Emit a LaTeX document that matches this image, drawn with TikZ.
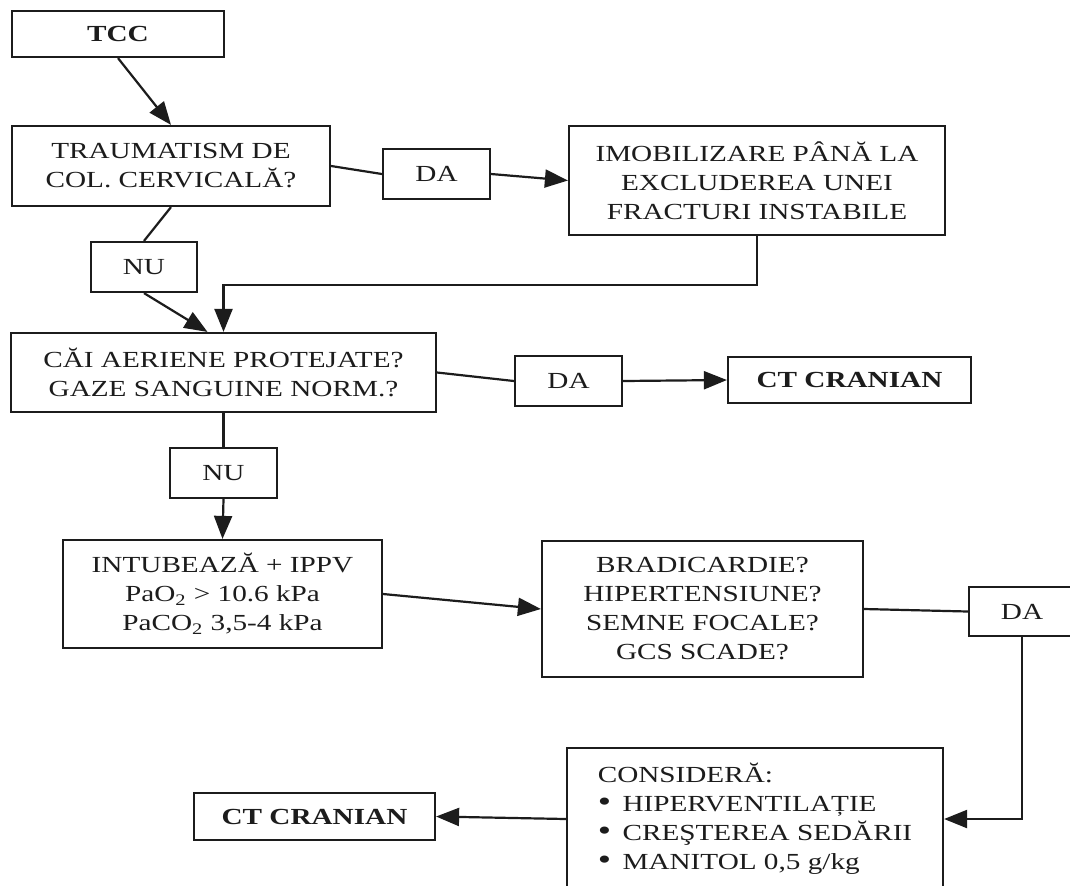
\documentclass[tikz,border=0pt]{standalone}
\usepackage{fontspec}
\setmainfont{Liberation Serif}[FakeStretch=1.27]
\usetikzlibrary{arrows.meta,calc}
\definecolor{ink}{HTML}{1C1C1C}
\newcommand{\bigbul}{\scalebox{1.3}{\textbullet}\hspace{0.5em}}
\begin{document}
\begin{tikzpicture}[x=0.5pt,y=-0.5pt,
  box/.style={draw=ink, text=ink, line width=1.1pt, inner sep=0pt, align=center,
              font=\fontsize{11.5}{14.5}\selectfont},
  boldbox/.style={box, font=\fontsize{11.5}{14.5}\selectfont\bfseries},
  sz/.style 2 args={minimum width=#1*0.5pt, minimum height=#2*0.5pt},
  conn/.style={draw=ink, line width=1.1pt},
  arr/.style={conn, -{Triangle[length=11.5pt,width=9pt]}}]
\useasboundingbox (0,0) rectangle (1070,885);
\fill[white] (0,0) rectangle (1070,885);
\clip (0,0) rectangle (1070,885);

\node[boldbox, sz={212}{46}] (tcc) at (118,34) {TCC};
\node[box, sz={318}{80}] (trauma) at (171,166) {TRAUMATISM DE\\COL. CERVICALĂ?};
\node[box, sz={107}{50}] (da1) at (436.5,174) {DA};
\node[box, sz={376}{109}] (imob) at (757,180.5) {IMOBILIZARE PÂNĂ LA\\EXCLUDEREA UNEI\\FRACTURI INSTABILE};
\node[box, sz={106}{50}] (nu1) at (144,267) {NU};
\node[box, sz={425}{79}] (cai) at (223.5,372.5) {CĂI AERIENE PROTEJATE?\\GAZE SANGUINE NORM.?};
\node[box, sz={107}{50}] (da2) at (568.5,381) {DA};
\node[boldbox, sz={243}{46}] (ct1) at (849.5,380) {CT CRANIAN};
\node[box, sz={107}{50}] (nu2) at (223.5,473) {NU};
\node[box, sz={319}{108}] (intub) at (222.5,594) {INTUBEAZĂ + IPPV\\PaO\textsubscript{2} > 10.6 kPa\\PaCO\textsubscript{2} 3,5-4 kPa};
\node[box, sz={321}{136}] (brad) at (702.5,609) {BRADICARDIE?\\HIPERTENSIUNE?\\SEMNE FOCALE?\\GCS SCADE?};
\node[box, sz={106}{49}] (da3) at (1022,611.5) {DA};
\node[box, sz={376}{142}, align=left] (cons) at (755,819) {CONSIDERĂ:\\\bigbul HIPERVENTILAȚIE\\\bigbul CREŞTEREA SEDĂRII\\\bigbul MANITOL 0,5 g/kg};
\node[boldbox, sz={241}{47}] (ct2) at (314.5,816.5) {CT CRANIAN};

\draw[arr] (tcc.south) -- (trauma.north);
\draw[conn] (trauma.east) -- (da1.west);
\draw[arr] (da1.east) -- (imob.west);
\draw[arr] (imob.south) -- ++(0,49) -| (cai.north);
\draw[conn] (trauma.south) -- (nu1.north);
\draw[arr] (nu1.south) -- ($(cai.north)+(-16,0)$);
\draw[conn] (cai.east) -- (da2.west);
\draw[arr] (da2.east) -- (ct1.west);
\draw[conn] (cai.south) -- (nu2.north);
\draw[arr] (nu2.south) -- (intub.north);
\draw[arr] (intub.east) -- (brad.west);
\draw[conn] (brad.east) -- (da3.west);
\draw[arr] (da3.south) |- (cons.east);
\draw[arr] (cons.west) -- (ct2.east);
\end{tikzpicture}
\end{document}
